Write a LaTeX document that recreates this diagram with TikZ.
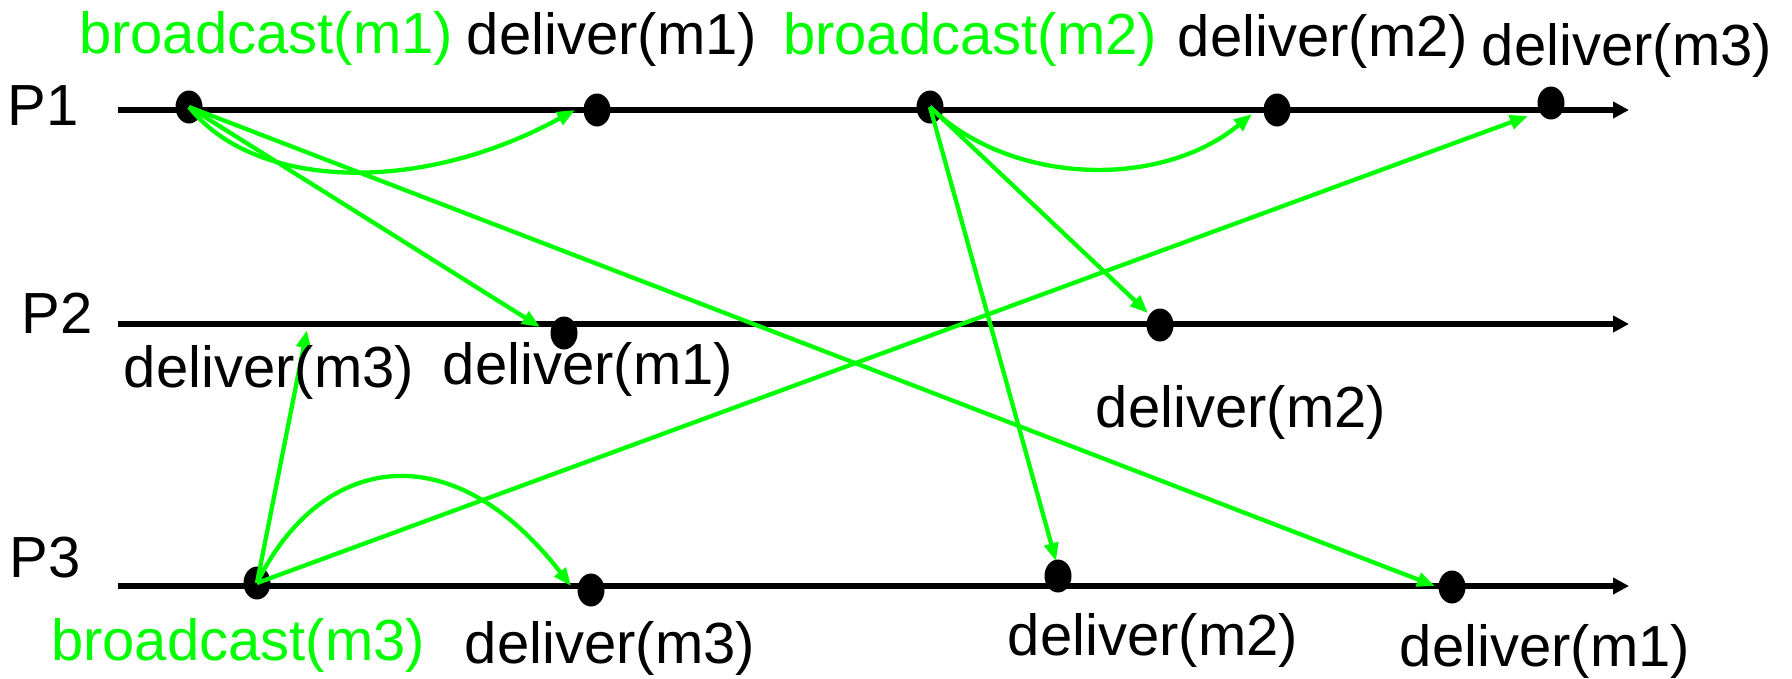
\documentclass[tikz,border=0pt]{standalone}
\usepackage{fontspec}
\setmainfont{Liberation Sans}
\usetikzlibrary{arrows.meta,shapes.geometric}
\definecolor{grn}{RGB}{0,255,0}
\tikzset{
  lbl/.style={inner sep=0pt, font=\fontsize{58}{60}\selectfont, text=black},
  glbl/.style={lbl, text=grn},
  dot/.style={ellipse, fill=black, draw=none, minimum width=27pt, minimum height=33pt, inner sep=0pt},
  axis/.style={line width=5.5pt, -{Triangle[length=16pt,width=16pt]}},
  msg/.style={draw=grn, line width=4.3pt, -{Triangle[length=18pt,width=14pt,fill=grn]}}
}
\begin{document}
\begin{tikzpicture}[x=1pt,y=-1pt]
\useasboundingbox (0,0) rectangle (1792,678);
% axes
\coordinate (s1) at (118,110); \coordinate (e1) at (1629,110);
\coordinate (s2) at (118,324); \coordinate (e2) at (1629,324);
\coordinate (s3) at (118,586); \coordinate (e3) at (1629,586);
\draw[axis] (s1) -- (e1);
\draw[axis] (s2) -- (e2);
\draw[axis] (s3) -- (e3);
% process labels
\node[lbl] (p1) at (43,106) {P1};
\node[lbl] (p2) at (57,313) {P2};
\node[lbl] (p3) at (45,558) {P3};
% dots
\node[dot] (a1) at (189,107) {};
\node[dot] (d11) at (597,110) {};
\node[dot] (b2) at (930,107) {};
\node[dot] (d12) at (1277,110) {};
\node[dot] (d13) at (1551,103) {};
\node[dot] (d21) at (564,333) {};
\node[dot] (d22) at (1160,325) {};
\node[dot] (b3) at (257,583) {};
\node[dot] (d33) at (591,590) {};
\node[dot] (d32) at (1058,576) {};
\node[dot] (d31) at (1452,587) {};
% tips
\coordinate (t1) at (575,110);
\coordinate (t2) at (540,327);
\coordinate (t3) at (1435,586);
\coordinate (t4) at (1252,114);
\coordinate (t5) at (1148,313);
\coordinate (t6) at (1056,561);
\coordinate (t7) at (307,330);
\coordinate (t8) at (571,586);
\coordinate (t9) at (1528,116);
% messages
\draw[msg] (a1.center) .. controls (255,190) and (420,195) .. (t1);
\draw[msg] (a1.center) -- (t2);
\draw[msg] (a1.center) -- (t3);
\draw[msg] (b2.center) .. controls (1010,185) and (1160,190) .. (t4);
\draw[msg] (b2.center) -- (t5);
\draw[msg] (b2.center) -- (t6);
\draw[msg] (b3.center) -- (t7);
\draw[msg] (b3.center) .. controls (320,455) and (450,430) .. (t8);
\draw[msg] (b3.center) -- (t9);
% labels
\node[glbl] (lb1) at (266,38) {broadcast(m1)};
\node[lbl] (l11) at (612,39) {deliver(m1)};
\node[glbl] (lb2) at (970,39) {broadcast(m2)};
\node[lbl] (l12) at (1323,41) {deliver(m2)};
\node[lbl] (l13) at (1627,50) {deliver(m3)};
\node[lbl] (l23) at (269,372) {deliver(m3)};
\node[lbl] (l21) at (588,369) {deliver(m1)};
\node[lbl] (l22) at (1241,412) {deliver(m2)};
\node[glbl] (lb3) at (238,645) {broadcast(m3)};
\node[lbl] (l33) at (610,648) {deliver(m3)};
\node[lbl] (l32) at (1153,640) {deliver(m2)};
\node[lbl] (l31) at (1545,651) {deliver(m1)};
\end{tikzpicture}
\end{document}
